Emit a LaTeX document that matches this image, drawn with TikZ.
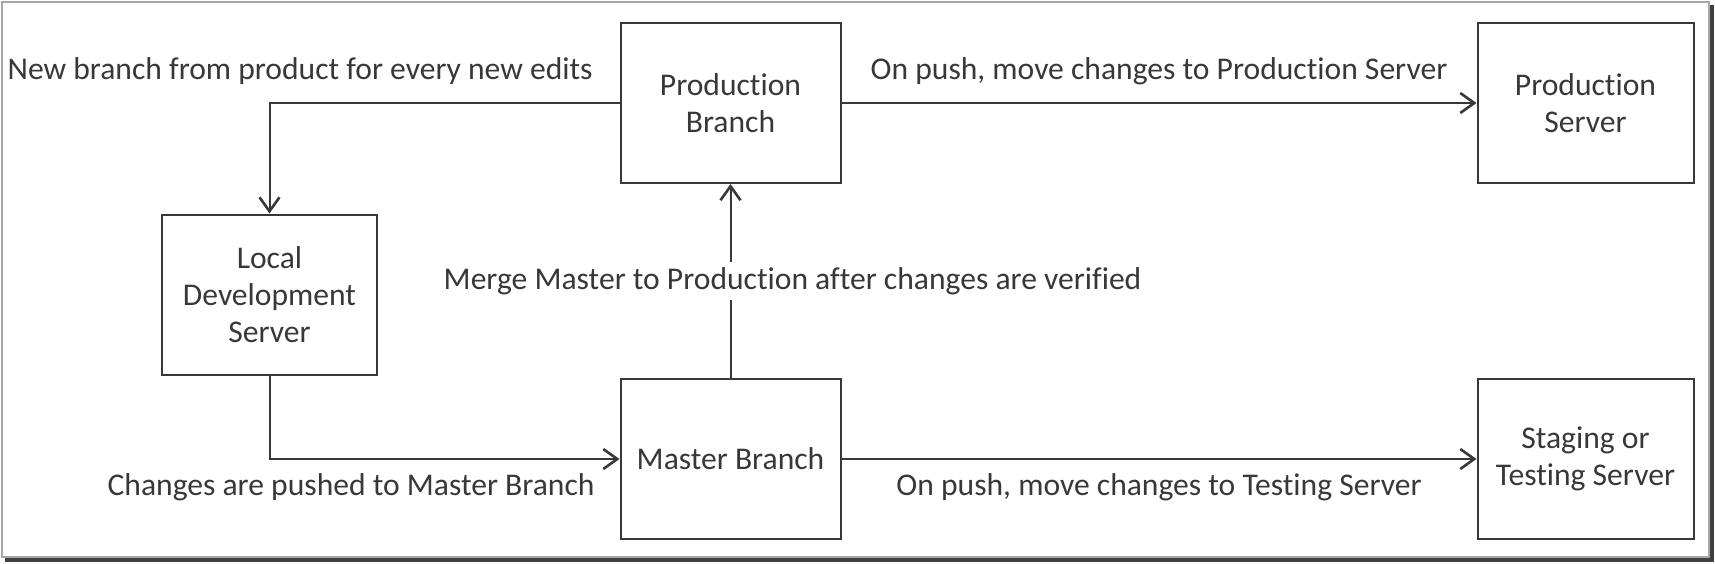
\documentclass[tikz,border=0pt]{standalone}
\usepackage{fontspec}
\setmainfont{Carlito}[Ligatures=NoCommon]
\usetikzlibrary{arrows.meta,positioning}
\definecolor{ink}{gray}{0.22}
\tikzset{
    rect/.style={ % branch boxes
        rectangle,
        draw=ink,
        line width=1pt,
        text=ink,
        align=center,
        minimum width=110pt,
        minimum height=80pt,
        inner sep=0pt
        },
    rects/.style={ % server boxes, a bit narrower
        rect,
        minimum width=108pt
        },
    lbl/.style={ % edge labels
        text=ink,
        inner sep=0pt
        },
    arrout/.style={
        draw=ink,
        line width=1pt,
        -{Straight Barb[length=7pt,width=10pt,line width=1.3pt]}
        },
    frm/.style={ % outer frame
        draw=gray!70,
        line width=0.8pt
        },
    shd/.style={ % frame shadow
        draw=black!75,
        line width=2pt
        }
}

\begin{document}
\begin{tikzpicture}[x=0.5pt,y=-0.5pt,font=\fontsize{15.8pt}{18.5pt}\selectfont]
\useasboundingbox (0,0) rectangle (1715,563);

%%%%% frame
\draw[frm] (2,2) rectangle (1709,557);
\draw[shd] (1712,5) -- (1712,560) -- (5,560);

%%%%% node pb
\node[rect] (pb) at (730.5,103) {Production\\Branch};

%%%%% node ps
\node[rects, right=317.5pt of pb] (ps) {Production\\Server};

%%%%% node mb
\node[rect, below=97pt of pb] (mb) {Master Branch};

%%%%% node ss
\node[rects, right=317.5pt of mb] (ss) {Staging or\\Testing Server};

%%%%% node ld
\node[rect, minimum width=107.5pt] (ld) at (269.5,294.5) {Local\\Development\\Server};

%%%%% edge pb -> ld
\draw[arrout] (pb.west) -| node[lbl, pos=0, anchor=base east, xshift=-13pt, yshift=12pt]
{New branch from product for every new edits} (ld.north);

%%%%% edge pb -> ps
\draw[arrout] (pb.east) -- node[lbl, midway, anchor=base, yshift=12pt]
{On push, move changes to Production Server} (ps.west);

%%%%% edge mb -> pb
\draw[arrout] (mb.north) -- node[lbl, midway, fill=white, inner ysep=2.5pt, xshift=31pt]
{Merge Master to Production after changes are verified} (pb.south);

%%%%% edge ld -> mb
\draw[arrout] (ld.south) |- node[lbl, pos=1, anchor=base east, xshift=-12pt, yshift=-18pt]
{Changes are pushed to Master Branch} (mb.west);

%%%%% edge mb -> ss
\draw[arrout] (mb.east) -- node[lbl, midway, anchor=base, yshift=-18pt]
{On push, move changes to Testing Server} (ss.west);

\end{tikzpicture}
\end{document}
